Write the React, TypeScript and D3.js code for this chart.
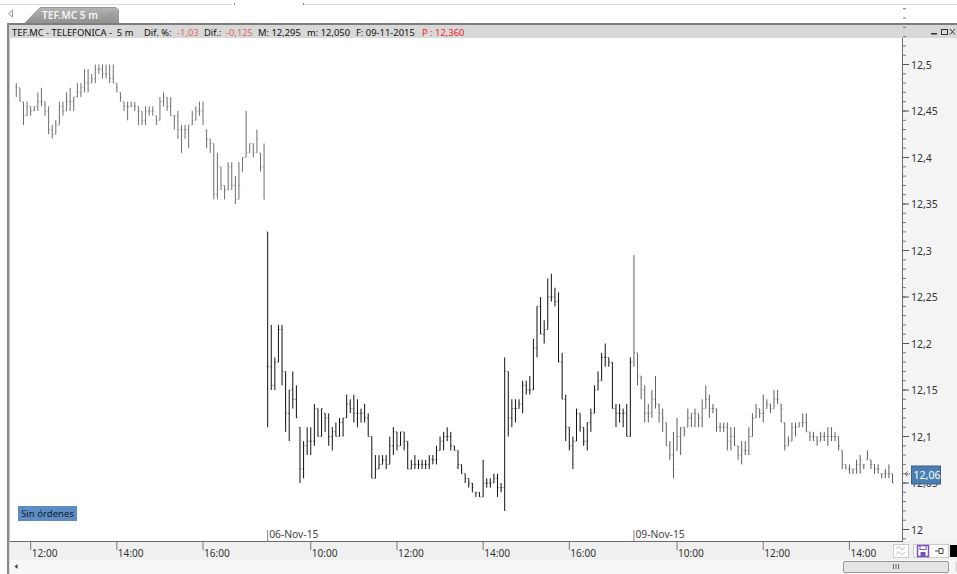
import React from "react";
import * as d3 from "d3";

const highs = [
  12.48,12.475,12.46,12.46,12.455,12.455,12.47,12.475,12.46,12.455,
  12.435,12.44,12.46,12.46,12.47,12.475,12.465,12.48,12.48,12.495,
  12.495,12.49,12.5,12.5,12.5,12.5,12.5,12.5,12.48,12.47,
  12.46,12.46,12.46,12.46,12.455,12.45,12.455,12.455,12.455,12.445,
  12.465,12.47,12.465,12.465,12.445,12.45,12.435,12.435,12.435,12.45,
  12.455,12.46,12.46,12.43,12.42,12.415,12.405,12.39,12.37,12.395,
  12.395,12.38,12.395,12.4,12.45,12.415,12.415,12.43,12.405,12.415,
  12.32,12.22,12.185,12.22,12.22,12.17,12.15,12.17,12.155,12.11,
  12.095,12.11,12.11,12.135,12.13,12.13,12.125,12.125,12.11,12.115,
  12.12,12.12,12.145,12.14,12.145,12.14,12.13,12.135,12.125,12.1,
  12.08,12.08,12.08,12.08,12.1,12.11,12.105,12.105,12.105,12.095,
  12.075,12.08,12.075,12.075,12.075,12.08,12.08,12.09,12.1,12.105,
  12.11,12.105,12.09,12.085,12.07,12.06,12.055,12.05,12.04,12.04,
  12.075,12.055,12.055,12.06,12.06,12.05,12.185,12.17,12.14,12.14,
  12.14,12.16,12.16,12.165,12.205,12.24,12.25,12.225,12.27,12.275,
  12.26,12.255,12.19,12.145,12.11,12.1,12.13,12.125,12.11,12.115,
  12.13,12.155,12.17,12.19,12.2,12.185,12.18,12.135,12.135,12.13,
  12.135,12.185,12.295,12.19,12.165,12.155,12.135,12.15,12.165,12.135,
  12.13,12.115,12.095,12.105,12.12,12.11,12.11,12.13,12.125,12.13,
  12.125,12.14,12.155,12.145,12.135,12.13,12.115,12.115,12.115,12.11,
  12.11,12.09,12.095,12.095,12.11,12.125,12.135,12.13,12.145,12.14,
  12.135,12.15,12.15,12.135,12.115,12.1,12.115,12.115,12.115,12.125,
  12.125,12.105,12.105,12.1,12.105,12.105,12.11,12.11,12.105,12.1,
  12.085,12.07,12.07,12.065,12.075,12.08,12.07,12.085,12.075,12.07,
  12.07,12.06,12.065,12.07,12.06,
];
const lows = [
  12.465,12.46,12.435,12.445,12.445,12.45,12.45,12.455,12.445,12.425,
  12.42,12.425,12.435,12.445,12.45,12.45,12.45,12.465,12.465,12.47,
  12.47,12.48,12.48,12.49,12.485,12.485,12.48,12.48,12.47,12.46,
  12.45,12.44,12.455,12.45,12.435,12.435,12.435,12.445,12.445,12.435,
  12.44,12.455,12.45,12.445,12.43,12.42,12.405,12.42,12.41,12.435,
  12.44,12.445,12.435,12.41,12.405,12.355,12.355,12.365,12.355,12.365,
  12.365,12.35,12.355,12.385,12.4,12.405,12.4,12.405,12.385,12.355,
  12.11,12.15,12.15,12.18,12.155,12.105,12.095,12.13,12.12,12.05,
  12.055,12.08,12.08,12.09,12.1,12.1,12.105,12.09,12.085,12.1,
  12.1,12.1,12.12,12.125,12.115,12.11,12.115,12.115,12.1,12.055,
  12.055,12.065,12.07,12.065,12.07,12.08,12.085,12.09,12.085,12.065,
  12.065,12.065,12.065,12.065,12.065,12.065,12.07,12.07,12.085,12.085,
  12.095,12.085,12.085,12.065,12.06,12.05,12.045,12.04,12.035,12.035,
  12.035,12.045,12.045,12.05,12.035,12.04,12.02,12.1,12.11,12.115,
  12.13,12.125,12.145,12.145,12.15,12.185,12.21,12.2,12.215,12.245,
  12.24,12.18,12.14,12.095,12.085,12.065,12.095,12.105,12.09,12.085,
  12.105,12.125,12.15,12.16,12.175,12.175,12.13,12.11,12.115,12.11,
  12.1,12.1,12.175,12.155,12.14,12.115,12.115,12.12,12.13,12.115,
  12.105,12.09,12.075,12.055,12.085,12.08,12.1,12.11,12.11,12.11,
  12.11,12.11,12.13,12.12,12.125,12.105,12.105,12.105,12.085,12.085,
  12.09,12.075,12.07,12.08,12.08,12.1,12.12,12.12,12.115,12.13,
  12.125,12.13,12.135,12.115,12.085,12.09,12.095,12.1,12.11,12.11,
  12.105,12.095,12.095,12.09,12.095,12.095,12.09,12.095,12.095,12.085,
  12.065,12.065,12.06,12.06,12.06,12.06,12.065,12.075,12.065,12.06,
  12.06,12.055,12.055,12.055,12.05,
];
const closes = [
  12.475,12.46,12.445,12.455,12.45,12.455,12.46,12.46,12.45,12.43,
  12.425,12.435,12.455,12.45,12.46,12.46,12.465,12.47,12.475,12.48,
  12.48,12.485,12.495,12.495,12.49,12.49,12.485,12.48,12.475,12.465,
  12.455,12.455,12.455,12.455,12.45,12.44,12.45,12.45,12.45,12.44,
  12.46,12.465,12.455,12.445,12.445,12.43,12.43,12.43,12.435,12.44,
  12.45,12.45,12.44,12.42,12.415,12.36,12.39,12.37,12.365,12.39,
  12.37,12.355,12.37,12.4,12.405,12.415,12.405,12.42,12.39,12.355,
  12.175,12.155,12.18,12.215,12.17,12.125,12.15,12.14,12.12,12.065,
  12.09,12.095,12.095,12.13,12.1,12.13,12.12,12.1,12.105,12.1,
  12.115,12.12,12.135,12.13,12.125,12.125,12.125,12.12,12.1,12.055,
  12.065,12.07,12.075,12.07,12.09,12.105,12.09,12.105,12.095,12.065,
  12.07,12.07,12.07,12.07,12.07,12.075,12.075,12.085,12.095,12.1,
  12.1,12.09,12.085,12.07,12.06,12.055,12.05,12.045,12.04,12.035,
  12.05,12.05,12.05,12.055,12.045,12.045,12.17,12.12,12.13,12.13,
  12.135,12.155,12.15,12.15,12.195,12.24,12.21,12.215,12.25,12.25,
  12.245,12.18,12.14,12.11,12.09,12.095,12.125,12.11,12.095,12.115,
  12.125,12.15,12.16,12.185,12.185,12.18,12.13,12.125,12.125,12.125,
  12.1,12.18,12.19,12.165,12.15,12.125,12.125,12.14,12.135,12.125,
  12.12,12.09,12.08,12.065,12.1,12.11,12.105,12.12,12.125,12.125,
  12.12,12.13,12.14,12.13,12.13,12.11,12.11,12.11,12.095,12.1,
  12.09,12.08,12.085,12.085,12.1,12.12,12.13,12.125,12.125,12.135,
  12.13,12.14,12.14,12.13,12.09,12.095,12.11,12.11,12.115,12.115,
  12.105,12.1,12.1,12.095,12.1,12.1,12.1,12.1,12.1,12.09,
  12.07,12.065,12.065,12.065,12.07,12.075,12.07,12.08,12.07,12.065,
  12.065,12.06,12.06,12.06,12.05,
];

const priceLabels = ["12,5", "12,45", "12,4", "12,35", "12,3", "12,25", "12,2", "12,15", "12,1", "12,05", "12"];
const priceTicks = [12.5, 12.45, 12.4, 12.35, 12.3, 12.25, 12.2, 12.15, 12.1, 12.05, 12];
const minorTicks = d3.range(11.99, 12.56, 0.01);
const timeBars = [4, 28, 52, 82, 106, 130, 154, 184, 208, 232];
const timeLabels = ["12:00", "14:00", "16:00", "10:00", "12:00", "14:00", "16:00", "10:00", "12:00", "14:00"];
const dateBars = [70, 172];
const dateLabels = ["06-Nov-15", "09-Nov-15"];
const sessionStarts = [0, 70, 172];
const sessionColors = ["#6e6e6e", "#111111", "#5e5e5e"];

const FONT = "'Noto Sans', 'Open Sans', sans-serif";
const W = 957;
const H = 574;

export default function App() {
  const x = d3.scaleLinear().domain([0, 244]).range([16.3, 892.5]);
  const y = d3.scaleLinear().domain([12, 12.5]).range([529.5, 64.5]);
  const color = (i: number) => sessionColors[d3.bisectRight(sessionStarts, i) - 1];
  const clamp = (v: number, i: number) => Math.min(highs[i], Math.max(lows[i], v));

  return (
    <svg width={W} height={H} viewBox={`0 0 ${W} ${H}`} style={{ position: "fixed", left: 0, top: 0, background: "#fff", fontFamily: FONT }}>
      {/* top strip and tab */}
      <line x1={0} x2={232} y1={4.5} y2={4.5} stroke="#dcdcdc" />
      <line x1={304} x2={957} y1={4.5} y2={4.5} stroke="#dcdcdc" />
      <rect x={234} y={3} width={1} height={2} fill="#888" />
      <rect x={303} y={3} width={1} height={2} fill="#888" />
      <path d="M12.5 10 L8.5 13.5 L12.5 17 Z" fill="#fff" stroke="#999" />
      <defs>
        <linearGradient id="tabg" x1="0" x2="0" y1="0" y2="1">
          <stop offset="0" stopColor="#b4b4b4" />
          <stop offset="1" stopColor="#8f8f8f" />
        </linearGradient>
      </defs>
      <path d="M25 23 L40 7.5 L116 7.5 L118.5 10 L118.5 23 Z" fill="url(#tabg)" stroke="#9a9a9a" />
      <text x={42} y={19} fontSize={10.2} fontWeight={600} fill="#f4f4f4">TEF.MC 5 m</text>
      <path d="M107 12 L114 19 M114 12 L107 19" stroke="#9b9b9b" strokeWidth={1.4} />

      {/* frame */}
      <rect x={7} y={23} width={950} height={2} fill="#7c7c7c" />
      <rect x={7} y={23} width={2.5} height={551} fill="#8a8a8a" />
      <rect x={9.5} y={25} width={947.5} height={13} fill="#d8d8d8" />
      <text x={12} y={35.5} fontSize={9.4} fill="#111" xmlSpace="preserve">
        <tspan>TEF.MC - TELEFONICA -  5 m</tspan>
        <tspan x={144}>Dif. %:</tspan>
        <tspan x={177} fill="#e06a6a">-1,03</tspan>
        <tspan x={204}>Dif.:</tspan>
        <tspan x={226} fill="#e06a6a">-0,125</tspan>
        <tspan x={258}>M: 12,295</tspan>
        <tspan x={307}>m: 12,050</tspan>
        <tspan x={356}>F: 09-11-2015</tspan>
        <tspan x={422} fill="#ee2222">P : 12,360</tspan>
      </text>
      <rect x={931} y={33} width={6} height={1.5} fill="#333" />
      <rect x={941.5} y={29.5} width={6} height={5} fill="none" stroke="#333" />
      <path d="M950 29 L955 34.5 M955 29 L950 34.5" stroke="#333" />

      {/* right panel */}
      <rect x={902} y={38} width={55} height={504} fill="#f4f4f4" />
      <rect x={9.5} y={541} width={947.5} height={19} fill="#f0f0f0" />
      <rect x={9.5} y={560} width={947.5} height={14} fill="#f7f7f7" />
      <line x1={9.5} x2={902} y1={541.5} y2={541.5} stroke="#6c6c6c" />
      <line x1={902.5} x2={902.5} y1={38} y2={542} stroke="#6c6c6c" />

      {/* price axis */}
      {minorTicks.map((v) => (
        <line key={v} x1={903} x2={906} y1={y(v)} y2={y(v)} stroke="#777" />
      ))}
      {priceTicks.map((v, i) => (
        <g key={v}>
          <line x1={903} x2={909} y1={y(v)} y2={y(v)} stroke="#555" />
          <text x={911} y={y(v) + 4} fontSize={10.5} fill="#333">{priceLabels[i]}</text>
        </g>
      ))}

      {/* bars */}
      {highs.map((h, i) => {
        const px = x(i);
        const c = color(i);
        const open = clamp(i > 0 ? closes[i - 1] : closes[0], i);
        return (
          <g key={i} stroke={c} strokeWidth={1}>
            <line x1={px} x2={px} y1={y(h)} y2={y(lows[i])} />
            <line x1={px - 1.3} x2={px} y1={y(open)} y2={y(open)} strokeWidth={0.7} strokeOpacity={0.75} />
            <line x1={px} x2={px + 1.3} y1={y(closes[i])} y2={y(closes[i])} strokeWidth={0.7} strokeOpacity={0.75} />
          </g>
        );
      })}

      {/* current price */}
      <path d="M910 474 L905 474 M907.5 471.5 L905 474 L907.5 476.5" stroke="#666" fill="none" />
      <rect x={911.5} y={466} width={29} height={18} fill="#4b7fb4" stroke="#3c5f86" />
      <text x={913.5} y={479} fontSize={10.6} fill="#fff">12,06</text>

      {/* orders */}
      <rect x={18} y={506} width={59} height={15} fill="#5d8dc4" />
      <text x={21} y={517} fontSize={9.6} fill="#14202c">Sin órdenes</text>

      {/* dates */}
      {dateBars.map((b, i) => (
        <g key={b}>
          <line x1={x(b)} x2={x(b)} y1={530} y2={541} stroke="#888" />
          <text x={x(b) + 1.5} y={538} fontSize={10.3} fill="#444">{dateLabels[i]}</text>
        </g>
      ))}

      {/* time axis */}
      {timeBars.map((b, i) => (
        <g key={i}>
          <line x1={x(b)} x2={x(b)} y1={542} y2={550} stroke="#777" />
          <text x={x(b) + 1} y={557} fontSize={10.1} fill="#333">{timeLabels[i]}</text>
        </g>
      ))}

      {/* toolbar */}
      <rect x={893.5} y={544.5} width={15} height={13} fill="#fff" stroke="#ccc" />
      <path d="M896 549 L899 546.5 L902 550 L905 547 M896 554 L899 551.5 L902 555 L905 552" stroke="#c4c4c4" fill="none" />
      <rect x={913.5} y={544.5} width={35} height={13} fill="#fff" stroke="#ccc" />
      <rect x={917.5} y={545.5} width={11} height={11} fill="none" stroke="#7a4fc0" strokeWidth={1.5} />
      <rect x={920} y={545.5} width={6} height={4} fill="none" stroke="#7a4fc0" />
      <rect x={920.5} y={552} width={5} height={4} fill="#7a4fc0" />
      <path d="M935 551 L939 551 M939 548.5 h4 v5 h-4 Z" stroke="#444" fill="none" />
      <rect x={950} y={545} width={7} height={12} fill="#000" />

      {/* scrollbar */}
      <path d="M17.5 564 L14.5 566.5 L17.5 569 Z" fill="#444" />
      <rect x={843.5} y={561.5} width={105} height={11} rx={1.5} fill="#e4e4e4" stroke="#9a9a9a" />
      <path d="M893.5 564 v5 M896 564 v5 M898.5 564 v5" stroke="#666" />
      <rect x={955} y={562} width={2} height={10} fill="#ddd" />
    </svg>
  );
}
